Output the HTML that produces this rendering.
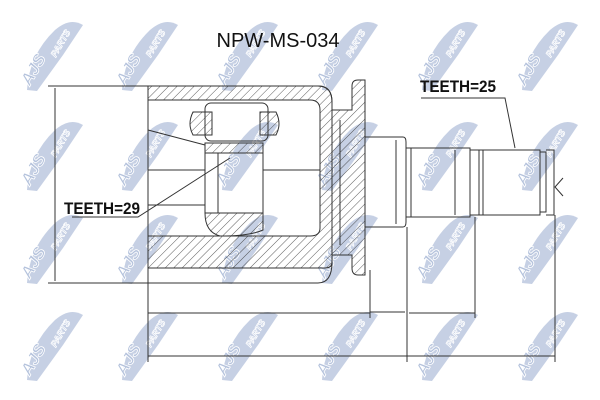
<!DOCTYPE html>
<html><head><style>
html,body{margin:0;padding:0;background:#fff;width:600px;height:400px;overflow:hidden}
</style></head><body>
<svg width="600" height="400" viewBox="0 0 600 400" xmlns="http://www.w3.org/2000/svg">
<defs>
<pattern id="h" width="6" height="6" patternUnits="userSpaceOnUse" patternTransform="rotate(45)">
<line x1="0" y1="0" x2="0" y2="6" stroke="#333" stroke-width="0.8"/>
</pattern>
<g id="wm">
<path d="M-28,35 Q-26,0 0,-25 Q15,-38 28,-30 Q18,-15 8,0 L-18,36 Z" fill="#c6d0e4"/>
<g transform="rotate(-60)" font-family="Liberation Sans,sans-serif" font-weight="bold" font-style="italic" fill="#b4c2dc" stroke="#fff" stroke-width="0.8">
<text x="-40" y="-6" font-size="17">AJS</text>
<text x="-2" y="2" font-size="9">PARTS</text>
</g>
</g>
</defs>
<g>
<use href="#wm" x="55" y="55"/><use href="#wm" x="150" y="55"/><use href="#wm" x="250" y="55"/><use href="#wm" x="350" y="55"/><use href="#wm" x="450" y="55"/><use href="#wm" x="550" y="55"/>
<use href="#wm" x="55" y="155"/><use href="#wm" x="150" y="155"/><use href="#wm" x="250" y="155"/><use href="#wm" x="350" y="155"/><use href="#wm" x="450" y="155"/><use href="#wm" x="550" y="155"/>
<use href="#wm" x="55" y="248"/><use href="#wm" x="150" y="248"/><use href="#wm" x="250" y="248"/><use href="#wm" x="350" y="248"/><use href="#wm" x="450" y="248"/><use href="#wm" x="550" y="248"/>
<use href="#wm" x="55" y="345"/><use href="#wm" x="150" y="345"/><use href="#wm" x="250" y="345"/><use href="#wm" x="350" y="345"/><use href="#wm" x="450" y="345"/><use href="#wm" x="550" y="345"/>
</g>
<text x="278" y="47" text-anchor="middle" font-family="Liberation Sans,sans-serif" font-size="20" fill="#111">NPW-MS-034</text>
<g stroke="#333" stroke-width="1" fill="none">
<line x1="48" y1="86" x2="150" y2="86"/><line x1="48" y1="283" x2="150" y2="283"/>
<line x1="55" y1="88" x2="55" y2="281"/>
<path d="M148,86 L318,86 Q332,86 332,102 L332,262 Q332,283 318,283 L148,283" />
<path d="M148,86 L318,86 Q332,86 332,102 L332,262 Q332,268 325,268 L148,268 L148,236 L310,236 Q320,236 320,228 L320,110 Q320,100 310,100 L148,100 Z" fill="url(#h)"/>
<line x1="148" y1="86" x2="148" y2="290"/>
<rect x="205" y="103" width="63" height="38" rx="6"/>
<path d="M193,112 L212,112 L212,135 L193,135 Q187,124 193,112 Z" fill="url(#h)"/>
<path d="M260,112 L276,112 Q282,124 276,135 L260,135 Z" fill="url(#h)"/>
<path d="M205,143 L263,143 L263,153 L205,153 Z" fill="url(#h)"/>
<rect x="205" y="153" width="13" height="60"/><rect x="218" y="153" width="45" height="60"/>
<path d="M205,213 L263,213 L263,230 Q250,236 220,236 Q205,232 205,213 Z" fill="url(#h)"/>
<path d="M148,130 L205,145 M148,170 L205,170 M148,205 L205,205"/>
<path d="M263,170 L320,170"/>
<path d="M332,110 L352,110 L352,86 Q352,80 358,80 L365,80 L365,275 L358,275 Q352,275 352,268 L352,255 L332,255" fill="url(#h)"/>
<line x1="340" y1="120" x2="340" y2="245"/>
<path d="M365,137 L403,137 Q406,137 406,142 L406,222 Q406,227 403,227 L365,227"/>
<line x1="396" y1="140" x2="396" y2="224"/>
<path d="M406,148 L470,148 L470,217 L406,217"/>
<line x1="411" y1="148" x2="411" y2="217"/>
<line x1="455" y1="150" x2="455" y2="215"/>
<path d="M470,150 L540,150 L540,215 L470,215"/>
<line x1="483" y1="150" x2="483" y2="215"/><line x1="479" y1="150" x2="479" y2="215"/>
<path d="M540,152 L546,152 L546,212 L540,212 M546,150 L554,150 L554,215 L546,215"/>
<path d="M563,178 L555,187 L563,196"/>
<path d="M72,217 L138,217 L230,158"/>
<path d="M421,98 L505,98 L515,148"/>
<line x1="148" y1="290" x2="148" y2="362"/>
<line x1="370" y1="270" x2="370" y2="318"/>
<line x1="407" y1="227" x2="407" y2="362"/>
<line x1="475" y1="217" x2="475" y2="318"/>
<line x1="555" y1="215" x2="555" y2="362"/>
<line x1="148" y1="313" x2="370" y2="313"/>
<line x1="370" y1="312" x2="405" y2="312"/>
<line x1="409" y1="313" x2="475" y2="313"/>
<line x1="148" y1="356" x2="555" y2="356"/>
</g>
<g font-family="Liberation Sans Narrow,Liberation Sans,sans-serif" font-weight="bold" font-size="17" fill="#111">
<text x="64" y="214" transform="translate(64,0) scale(0.9,1) translate(-64,0)">TEETH=29</text>
<text x="420" y="92" transform="translate(420,0) scale(0.9,1) translate(-420,0)">TEETH=25</text>
</g>
</svg>
</body></html>
